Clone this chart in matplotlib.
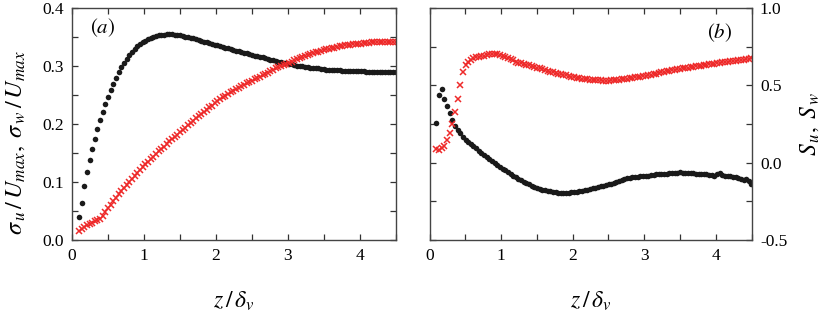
import numpy as np
import matplotlib
matplotlib.use("Agg")
import matplotlib.pyplot as plt
from matplotlib.ticker import MultipleLocator, FormatStrFormatter

plt.rcParams["font.family"] = ["Liberation Serif", "DejaVu Serif"]
plt.rcParams["mathtext.fontset"] = "stix"

# measurement heights z/delta_v (uniform grid)
z = 0.096 + 0.037 * np.arange(120)

sigma_u = [0.040, 0.064, 0.093, 0.117, 0.138, 0.157, 0.175, 0.192, 0.207, 0.221,
           0.234, 0.247, 0.259, 0.270, 0.280, 0.290, 0.298, 0.306, 0.313, 0.319,
           0.325, 0.330, 0.334, 0.338, 0.341, 0.344, 0.347, 0.349, 0.351, 0.352,
           0.353, 0.354, 0.3545, 0.355, 0.355, 0.355, 0.3545, 0.354, 0.353, 0.352,
           0.351, 0.350, 0.349, 0.348, 0.347, 0.345, 0.344, 0.342, 0.341, 0.340,
           0.338, 0.337, 0.336, 0.334, 0.333, 0.332, 0.331, 0.330, 0.328, 0.327,
           0.326, 0.325, 0.323, 0.322, 0.321, 0.320, 0.318, 0.317, 0.316, 0.315,
           0.314, 0.312, 0.311, 0.310, 0.309, 0.308, 0.307, 0.306, 0.305, 0.304,
           0.303, 0.302, 0.301, 0.300, 0.300, 0.299, 0.298, 0.297, 0.297, 0.296,
           0.296, 0.295, 0.295, 0.294, 0.294, 0.294, 0.293, 0.293, 0.293, 0.292,
           0.292, 0.292, 0.292, 0.291, 0.291, 0.291, 0.291, 0.291, 0.290, 0.290,
           0.290, 0.290, 0.290, 0.290, 0.290, 0.290, 0.290, 0.290, 0.290, 0.290]

sigma_w = [0.015, 0.019, 0.022, 0.025, 0.0275, 0.030, 0.032, 0.034, 0.036, 0.042,
           0.049, 0.055, 0.061, 0.067, 0.073, 0.079, 0.084, 0.090, 0.095, 0.100,
           0.106, 0.111, 0.116, 0.121, 0.126, 0.131, 0.135, 0.140, 0.144, 0.148,
           0.153, 0.157, 0.161, 0.165, 0.170, 0.174, 0.178, 0.182, 0.186, 0.190,
           0.194, 0.198, 0.202, 0.206, 0.210, 0.214, 0.218, 0.221, 0.225, 0.229,
           0.232, 0.236, 0.240, 0.243, 0.246, 0.249, 0.252, 0.255, 0.258, 0.261,
           0.263, 0.266, 0.268, 0.271, 0.273, 0.275, 0.277, 0.280, 0.282, 0.284,
           0.287, 0.289, 0.291, 0.293, 0.296, 0.298, 0.300, 0.302, 0.304, 0.306,
           0.308, 0.310, 0.312, 0.314, 0.316, 0.318, 0.319, 0.321, 0.322, 0.324,
           0.325, 0.327, 0.328, 0.329, 0.330, 0.331, 0.332, 0.333, 0.334, 0.335,
           0.336, 0.337, 0.337, 0.338, 0.338, 0.339, 0.339, 0.340, 0.340, 0.340,
           0.341, 0.341, 0.341, 0.341, 0.341, 0.341, 0.341, 0.341, 0.341, 0.341]

skew_u = [0.259, 0.438, 0.479, 0.410, 0.365, 0.321, 0.276, 0.237, 0.214, 0.190,
          0.165, 0.150, 0.135, 0.121, 0.107, 0.093, 0.078, 0.064, 0.050, 0.036,
          0.023, 0.010, -0.003, -0.015, -0.027, -0.039, -0.050, -0.061, -0.072, -0.083,
          -0.093, -0.103, -0.113, -0.122, -0.131, -0.140, -0.148, -0.155, -0.162, -0.168,
          -0.174, -0.179, -0.183, -0.186, -0.189, -0.191, -0.193, -0.194, -0.194, -0.193,
          -0.193, -0.192, -0.190, -0.188, -0.185, -0.182, -0.178, -0.174, -0.170, -0.166,
          -0.162, -0.158, -0.153, -0.149, -0.145, -0.140, -0.135, -0.129, -0.123, -0.117,
          -0.111, -0.106, -0.102, -0.098, -0.095, -0.093, -0.091, -0.089, -0.088, -0.086,
          -0.083, -0.080, -0.078, -0.076, -0.074, -0.073, -0.072, -0.070, -0.068, -0.067,
          -0.066, -0.064, -0.063, -0.064, -0.066, -0.068, -0.067, -0.069, -0.070, -0.071,
          -0.070, -0.073, -0.076, -0.080, -0.079, -0.083, -0.075, -0.064, -0.078, -0.084,
          -0.086, -0.089, -0.092, -0.094, -0.101, -0.108, -0.112, -0.104, -0.118, -0.140]

skew_w = [0.086, 0.080, 0.094, 0.110, 0.145, 0.190, 0.252, 0.330, 0.415, 0.505,
          0.590, 0.632, 0.655, 0.664, 0.676, 0.683, 0.687, 0.690, 0.694, 0.698,
          0.701, 0.704, 0.705, 0.702, 0.696, 0.690, 0.683, 0.676, 0.670, 0.664,
          0.655, 0.647, 0.643, 0.639, 0.635, 0.631, 0.626, 0.621, 0.616, 0.611,
          0.606, 0.600, 0.595, 0.590, 0.586, 0.581, 0.577, 0.573, 0.569, 0.565,
          0.561, 0.557, 0.552, 0.549, 0.546, 0.543, 0.541, 0.539, 0.537, 0.536,
          0.535, 0.534, 0.533, 0.532, 0.532, 0.532, 0.533, 0.534, 0.535, 0.537,
          0.540, 0.543, 0.545, 0.548, 0.550, 0.553, 0.555, 0.557, 0.560, 0.564,
          0.568, 0.571, 0.574, 0.577, 0.581, 0.585, 0.588, 0.591, 0.594, 0.598,
          0.601, 0.604, 0.607, 0.610, 0.613, 0.616, 0.619, 0.622, 0.625, 0.627,
          0.629, 0.632, 0.635, 0.637, 0.640, 0.642, 0.645, 0.647, 0.649, 0.651,
          0.654, 0.656, 0.658, 0.660, 0.662, 0.664, 0.667, 0.670, 0.674, 0.678]

RED = "#ee2a2a"
BLACK = "#1a1a1a"

fig = plt.figure(figsize=(8.3, 3.17), dpi=100)
ax1 = fig.add_axes([0.0867, 0.243, 0.390, 0.731])
ax2 = fig.add_axes([0.5175, 0.243, 0.388, 0.731])


def style(ax):
    for s in ax.spines.values():
        s.set_color("#444444")
        s.set_linewidth(1.0)
    ax.tick_params(which="both", direction="in", top=True, bottom=True,
                   left=True, right=True, length=4.5, width=0.9,
                   color="#333333", labelsize=12.5, pad=6)
    ax.set_xlim(0, 4.5)
    ax.xaxis.set_major_locator(MultipleLocator(1))
    ax.xaxis.set_minor_locator(MultipleLocator(0.5))
    ax.set_xlabel(r"$z\,/\,\delta_v$", fontsize=17, labelpad=18)


# panel (a)
ax1.plot(z, sigma_u, "o", color=BLACK, ms=4.0, mew=0, ls="none")
ax1.plot(z, sigma_w, "x", color=RED, ms=5, mew=1.1, ls="none")
style(ax1)
ax1.set_ylim(0, 0.4)
ax1.yaxis.set_major_locator(MultipleLocator(0.1))
ax1.yaxis.set_minor_locator(MultipleLocator(0.05))
ax1.yaxis.set_major_formatter(FormatStrFormatter("%.1f"))
ax1.set_ylabel(r"$\sigma_{\,u}\,/\,U_{max},\;\sigma_{\,w}\,/\,U_{max}$", fontsize=17.5)
ax1.yaxis.set_label_coords(-0.14, 0.42)
ax1.text(0.056, 0.915, r"$(a)$", transform=ax1.transAxes, fontsize=15,
         va="center", ha="left")

# panel (b)
ax2.plot(z, skew_u, "o", color=BLACK, ms=4.0, mew=0, ls="none")
ax2.plot(z, skew_w, "x", color=RED, ms=5, mew=1.1, ls="none")
style(ax2)
ax2.set_ylim(-0.5, 1.0)
ax2.yaxis.set_major_locator(MultipleLocator(0.5))
ax2.yaxis.set_minor_locator(MultipleLocator(0.25))
ax2.yaxis.set_major_formatter(FormatStrFormatter("%.1f"))
ax2.yaxis.tick_right()
ax2.tick_params(which="both", left=True, labelleft=False, labelright=True)
ax2.yaxis.set_label_position("right")
ax2.set_ylabel(r"$S_{\,u},\;S_{\,w}$", fontsize=17)
ax2.yaxis.set_label_coords(1.145, 0.5)
ax2.text(0.94, 0.895, r"$(b)$", transform=ax2.transAxes, fontsize=15,
         va="center", ha="right")

fig.savefig("out.png", dpi=100)
